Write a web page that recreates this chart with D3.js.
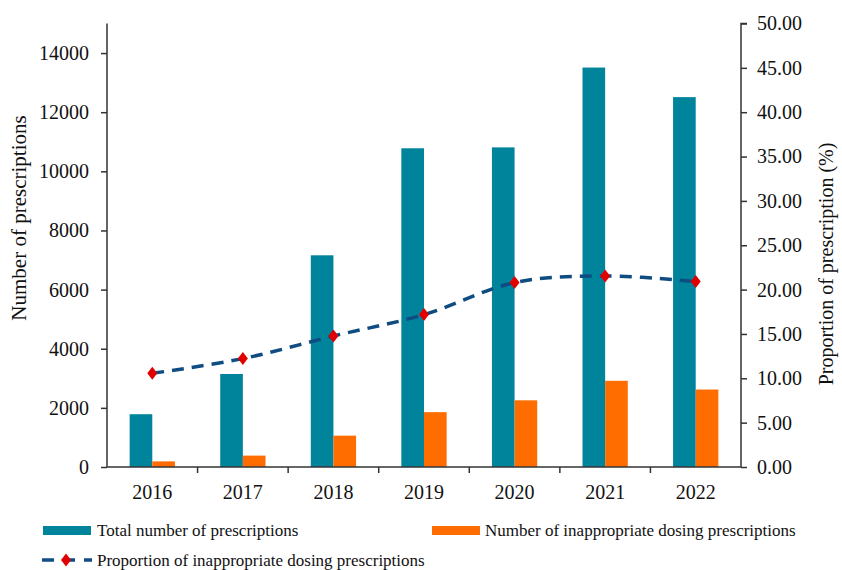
<!DOCTYPE html>
<html>
<head>
<meta charset="utf-8">
<script src="https://cdn.jsdelivr.net/npm/d3@7"></script>
<style>
  html, body { margin: 0; padding: 0; background: #fff; }
  svg { display: block; }
  text { font-family: "Liberation Serif", "Times New Roman", serif; fill: #111; }
</style>
</head>
<body>
<svg id="chart" width="842" height="570"></svg>
<script>
const years = ["2016", "2017", "2018", "2019", "2020", "2021", "2022"];
const totalPrescriptions = [1785, 3146, 7160, 10780, 10810, 13510, 12510];
const inappropriatePrescriptions = [190, 385, 1060, 1855, 2255, 2915, 2620];
const proportionPct = [10.56, 12.22, 14.77, 17.18, 20.79, 21.54, 20.90];
const leftTicks = [0, 2000, 4000, 6000, 8000, 10000, 12000, 14000];
const rightTicks = [0, 5, 10, 15, 20, 25, 30, 35, 40, 45, 50];
const seriesNames = ["Total number of prescriptions", "Number of inappropriate dosing prescriptions", "Proportion of inappropriate dosing prescriptions"];
const colors = { total: "#00849C", inappropriate: "#FF6C00", line: "#0F4C81", marker: "#E00000" };

const svg = d3.select("#chart");
const margin = { left: 107, right: 842 - 741, top: 23.5, bottom: 570 - 467 };
const W = 842, H = 570;
const x0 = margin.left, x1 = W - margin.right, yTop = margin.top, yBot = H - margin.bottom;

const x = d3.scaleBand().domain(years).range([x0, x1]).paddingInner(0).paddingOuter(0);
const xs = d3.scaleBand().domain(["total", "inappropriate"]).range([0, x.bandwidth()]).paddingInner(0).paddingOuter(1);
const yL = d3.scaleLinear().domain([0, 15000]).range([yBot, yTop]);
const yR = d3.scaleLinear().domain([0, 50]).range([yBot, yTop]);

const data = years.map((yr, i) => ({ yr, total: totalPrescriptions[i], inappropriate: inappropriatePrescriptions[i], pct: proportionPct[i] }));

// bars
const g = svg.append("g");
g.selectAll("rect.total").data(data).enter().append("rect")
  .attr("x", d => x(d.yr) + xs("total"))
  .attr("width", xs.bandwidth())
  .attr("y", d => yL(d.total))
  .attr("height", d => yBot - yL(d.total))
  .attr("fill", colors.total);
g.selectAll("rect.inap").data(data).enter().append("rect")
  .attr("x", d => x(d.yr) + xs("inappropriate"))
  .attr("width", xs.bandwidth())
  .attr("y", d => yL(d.inappropriate))
  .attr("height", d => yBot - yL(d.inappropriate))
  .attr("fill", colors.inappropriate);

// axes
const axisColor = "#333";
const leftAxis = d3.axisLeft(yL).tickValues(leftTicks).tickSize(6).tickPadding(12).tickFormat(d3.format("d"));
const gl = svg.append("g").attr("transform", `translate(${x0},0)`).call(leftAxis);
const rightAxis = d3.axisRight(yR).tickValues(rightTicks).tickSize(6).tickPadding(10).tickFormat(d3.format(".2f"));
const gr = svg.append("g").attr("transform", `translate(${x1},0)`).call(rightAxis);
const bottomAxis = d3.axisBottom(x).tickSize(0).tickPadding(18);
const gb = svg.append("g").attr("transform", `translate(0,${yBot})`).call(bottomAxis);
// category separator ticks
gb.selectAll("line.sep").data(years.slice(1)).enter().append("line")
  .attr("x1", d => x(d)).attr("x2", d => x(d)).attr("y1", 0).attr("y2", 6)
  .attr("stroke", axisColor).attr("stroke-width", 1.5);

[gl, gr, gb].forEach(a => {
  a.selectAll("path.domain").attr("stroke", axisColor).attr("stroke-width", 1.5);
  a.selectAll(".tick line").attr("stroke", axisColor).attr("stroke-width", 1.5);
  a.selectAll("text").style("font-family", "'Liberation Serif', serif").style("font-size", "20px").attr("fill", "#111");
});
gl.select("path.domain").attr("d", `M0,${yTop}V${yBot}`);
gr.select("path.domain").attr("d", `M6,${yTop}H0V${yBot}`);
gb.select("path.domain").attr("d", `M${x0},0H${x1}`);

// axis titles
svg.append("text").attr("transform", `translate(26,218) rotate(-90)`)
  .attr("text-anchor", "middle").style("font-size", "21px").text("Number of prescriptions");
svg.append("text").attr("transform", `translate(833,264) rotate(-90)`)
  .attr("text-anchor", "middle").style("font-size", "20px").text("Proportion of prescription (%)");

// line
const cx = d => x(d.yr) + x.bandwidth() / 2;
const line = d3.line().x(cx).y(d => yR(d.pct)).curve(d3.curveCatmullRom.alpha(0));
svg.append("path").datum(data).attr("d", line)
  .attr("fill", "none").attr("stroke", colors.line).attr("stroke-width", 3.5)
  .attr("stroke-dasharray", "12,8");
const diamond = "M0,-6.5L5,0L0,6.5L-5,0Z";
svg.selectAll("path.mk").data(data).enter().append("path")
  .attr("d", diamond).attr("transform", d => `translate(${cx(d)},${yR(d.pct)})`)
  .attr("fill", colors.marker);

// legend
const leg = svg.append("g");
leg.append("rect").attr("x", 43).attr("y", 526).attr("width", 48).attr("height", 9).attr("fill", colors.total);
leg.append("text").attr("x", 97).attr("y", 536).style("font-size", "17px").text(seriesNames[0]);
leg.append("rect").attr("x", 432).attr("y", 526).attr("width", 48).attr("height", 9).attr("fill", colors.inappropriate);
leg.append("text").attr("x", 485).attr("y", 536).style("font-size", "17px").text(seriesNames[1]);
leg.append("line").attr("x1", 42).attr("x2", 92).attr("y1", 560).attr("y2", 560)
  .attr("stroke", colors.line).attr("stroke-width", 3.5).attr("stroke-dasharray", "12,9");
leg.append("path").attr("d", diamond).attr("transform", "translate(66,560)").attr("fill", colors.marker);
leg.append("text").attr("x", 97).attr("y", 566).style("font-size", "17px").text(seriesNames[2]);
</script>
</body>
</html>
